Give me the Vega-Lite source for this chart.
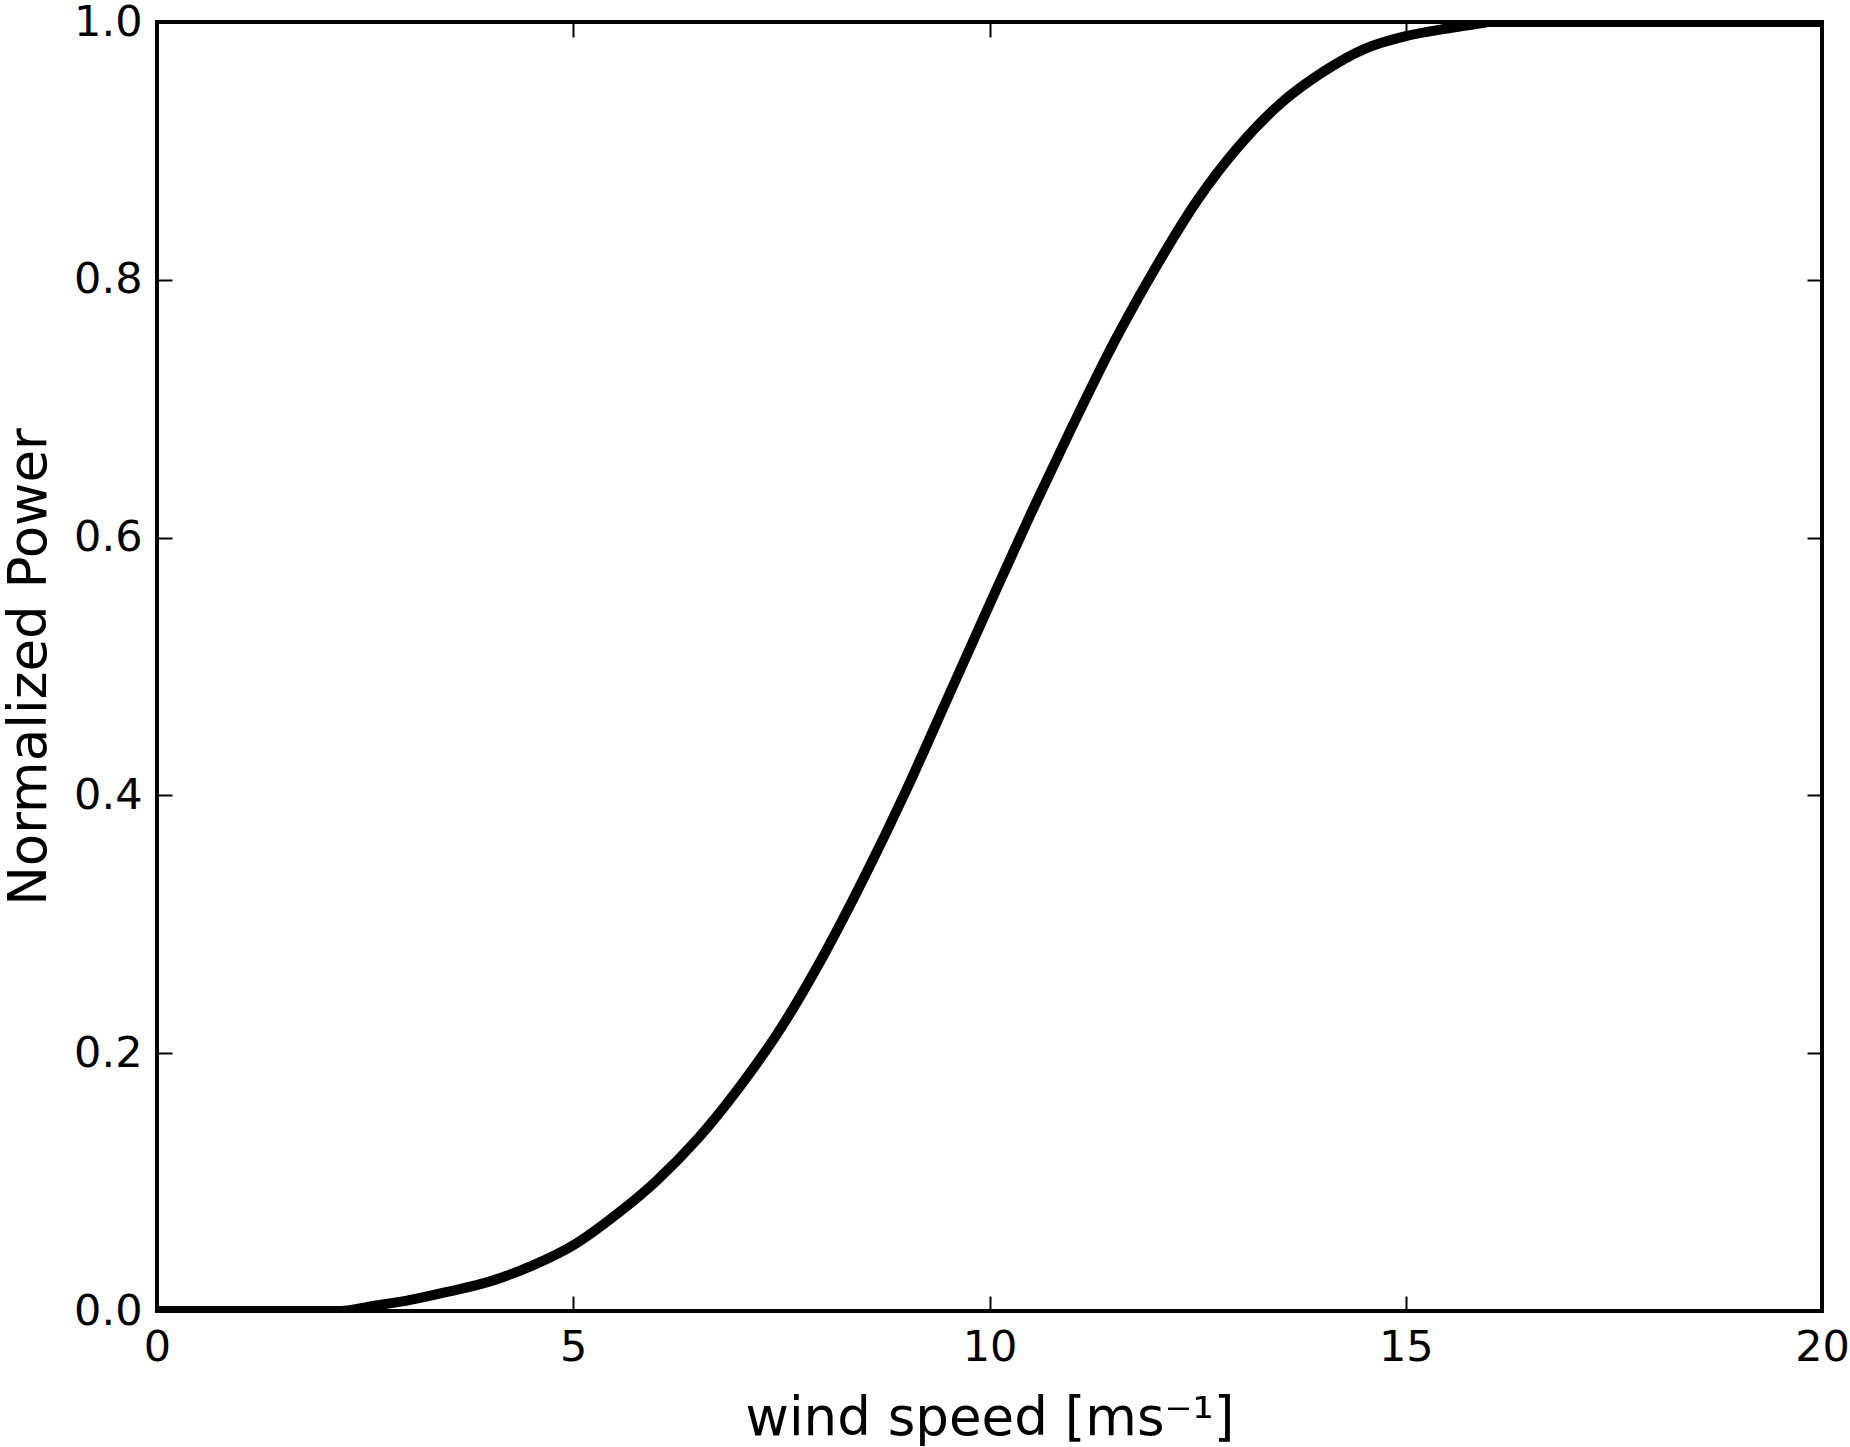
{
  "$schema": "https://vega.github.io/schema/vega-lite/v6.json",
  "width": 1665,
  "height": 1289,
  "autosize": {"type": "none"},
  "padding": {"left": 157, "top": 22, "right": 28, "bottom": 136},
  "background": "white",
  "config": {
    "font": "DejaVu Sans",
    "view": {"stroke": "black", "strokeWidth": 4},
    "axis": {
      "domain": false,
      "grid": false,
      "ticks": true,
      "tickSize": -15,
      "tickWidth": 2,
      "tickColor": "black",
      "labelColor": "black",
      "labelFont": "DejaVu Sans",
      "labelFontSize": 43,
      "labelPadding": 30,
      "labelFlush": false,
      "labelOverlap": false,
      "titleColor": "black",
      "titleFont": "DejaVu Sans",
      "titleFontSize": 53,
      "titleFontWeight": "normal"
    }
  },
  "data": {
    "values": [
      {"ws": 0, "p": 0},
      {"ws": 1, "p": 0},
      {"ws": 2.2, "p": 0},
      {"ws": 2.6, "p": 0.004},
      {"ws": 3.0, "p": 0.008},
      {"ws": 3.5, "p": 0.015},
      {"ws": 4.0, "p": 0.023},
      {"ws": 4.5, "p": 0.035},
      {"ws": 5.0, "p": 0.051},
      {"ws": 5.5, "p": 0.074},
      {"ws": 6.0, "p": 0.101},
      {"ws": 6.5, "p": 0.134},
      {"ws": 7.0, "p": 0.174},
      {"ws": 7.5, "p": 0.22},
      {"ws": 8.0, "p": 0.275},
      {"ws": 8.5, "p": 0.337},
      {"ws": 9.0, "p": 0.404},
      {"ws": 9.5, "p": 0.476},
      {"ws": 10.0, "p": 0.548},
      {"ws": 10.5, "p": 0.619},
      {"ws": 11.0, "p": 0.687},
      {"ws": 11.5, "p": 0.752},
      {"ws": 12.0, "p": 0.81},
      {"ws": 12.5, "p": 0.862},
      {"ws": 13.0, "p": 0.904},
      {"ws": 13.5, "p": 0.937},
      {"ws": 14.0, "p": 0.961},
      {"ws": 14.5, "p": 0.979},
      {"ws": 15.0, "p": 0.989},
      {"ws": 15.5, "p": 0.995},
      {"ws": 15.9, "p": 0.999},
      {"ws": 16.0, "p": 1.0},
      {"ws": 18.0, "p": 1.0},
      {"ws": 20.0, "p": 1.0}
    ]
  },
  "layer": [
    {
      "mark": {"type": "line", "color": "black", "strokeWidth": 10, "clip": true, "interpolate": "monotone"},
      "encoding": {
        "x": {
          "field": "ws",
          "type": "quantitative",
          "scale": {"domain": [0, 20], "nice": false, "zero": false},
          "axis": {"orient": "bottom", "values": [0, 5, 10, 15, 20], "format": "d",
                   "title": "wind speed [ms⁻¹]", "titleBaseline": "alphabetic", "titleY": 123}
        },
        "y": {
          "field": "p",
          "type": "quantitative",
          "scale": {"domain": [0, 1], "nice": false},
          "axis": {"orient": "left", "values": [0, 0.2, 0.4, 0.6, 0.8, 1.0], "format": ".1f",
                   "title": "Normalized Power", "titleBaseline": "alphabetic", "titleX": -112}
        }
      }
    },
    {
      "mark": {"type": "line", "strokeOpacity": 0},
      "encoding": {
        "x": {
          "field": "ws",
          "type": "quantitative",
          "axis": {"orient": "top", "values": [0, 5, 10, 15, 20], "labels": false, "title": null}
        },
        "y": {
          "field": "p",
          "type": "quantitative",
          "axis": {"orient": "right", "values": [0, 0.2, 0.4, 0.6, 0.8, 1.0], "labels": false, "title": null}
        }
      }
    }
  ],
  "resolve": {"axis": {"x": "independent", "y": "independent"}}
}
